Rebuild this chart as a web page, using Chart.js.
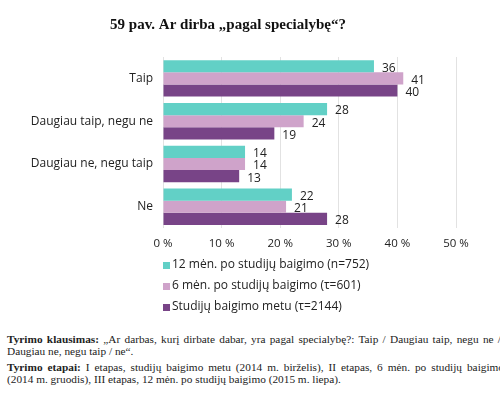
<!DOCTYPE html>
<html>
<head>
<meta charset="utf-8">
<script src="https://cdn.jsdelivr.net/npm/chart.js@4.4.0/dist/chart.umd.min.js"></script>
<style>
  body { margin: 0; background: #fff; width: 500px; height: 396px; overflow: hidden; position: relative; }
  #wrap { position: absolute; left: 0; top: 0; width: 500px; height: 320px; }
  .note { position: absolute; left: 7px; width: 520px; font-family: "Liberation Serif", "DejaVu Serif", serif;
          font-size: 11.3px; line-height: 11.5px; color: #222; white-space: nowrap; }
  .just { text-align: justify; text-align-last: justify; white-space: normal; }
</style>
</head>
<body>
<div id="wrap"><canvas id="bars"></canvas></div>
<div class="note" style="top:334px">
  <div class="just" style="width:494px"><b>Tyrimo klausimas:</b> „Ar darbas, kurį dirbate dabar, yra pagal specialybę?: Taip / Daugiau taip, negu ne /</div>
  <div>Daugiau ne, negu taip / ne“.</div>
</div>
<div class="note" style="top:362px">
  <div class="just" style="width:497px"><b>Tyrimo etapai:</b> I etapas, studijų baigimo metu (2014 m. birželis), II etapas, 6 mėn. po studijų baigimo</div>
  <div>(2014 m. gruodis), III etapas, 12 mėn. po studijų baigimo (2015 m. liepa).</div>
</div>
<script>
// categories and the three survey waves
var categories = ['Taip', 'Daugiau taip, negu ne', 'Daugiau ne, negu taip', 'Ne'];
var months12 = [36, 28, 14, 22];
var months6 = [41, 24, 14, 21];
var atGraduation = [40, 19, 13, 28];
var xTicks = [0, 10, 20, 30, 40, 50];

var seriesNames = ['12 mėn. po studijų baigimo (n=752)', '6 mėn. po studijų baigimo (τ=601)', 'Studijų baigimo metu (τ=2144)'];
var colors = ['#62d0c6', '#cfa3ca', '#784487'];

// numbers at the end of each bar
var valueLabels = {
  id: 'valueLabels',
  afterDatasetsDraw: function(chart) {
    var ctx = chart.ctx;
    ctx.save();
    ctx.font = '12px "Open Sans", sans-serif';
    ctx.fillStyle = '#222';
    ctx.textBaseline = 'middle';
    ctx.textAlign = 'left';
    chart.data.datasets.forEach(function(ds, i) {
      chart.getDatasetMeta(i).data.forEach(function(bar, j) {
        ctx.fillText(ds.data[j], bar.x + 8, bar.y + 2);
      });
    });
    ctx.restore();
  }
};

// vertical legend under the axis
var stackedLegend = {
  id: 'stackedLegend',
  afterDraw: function(chart) {
    var ctx = chart.ctx;
    var left = chart.chartArea.left;
    ctx.save();
    ctx.font = '12px "Open Sans", sans-serif';
    ctx.textBaseline = 'middle';
    chart.data.datasets.forEach(function(ds, i) {
      var y = 265 + i * 21;
      ctx.fillStyle = ds.backgroundColor;
      ctx.fillRect(left, y - 3, 7, 7);
      ctx.fillStyle = '#222';
      ctx.fillText(ds.label, left + 9, y);
    });
    ctx.restore();
  }
};

var ctx = document.getElementById('bars');
var myChart = new Chart(ctx, {
  type: 'bar',
  data: {
    labels: categories,
    datasets: [
      { label: seriesNames[0], data: months12, backgroundColor: colors[0] },
      { label: seriesNames[1], data: months6, backgroundColor: colors[1] },
      { label: seriesNames[2], data: atGraduation, backgroundColor: colors[2] }
    ]
  },
  options: {
    indexAxis: 'y',
    responsive: true,
    maintainAspectRatio: false,
    animation: false,
    layout: { padding: { top: 0, right: 44, bottom: 60, left: 0 } },
    datasets: { bar: { barPercentage: 1, categoryPercentage: 0.85 } },
    plugins: {
      legend: { display: false },
      tooltip: { enabled: false },
      title: {
        display: true,
        text: '59 pav. Ar dirba „pagal specialybę“?',
        color: '#111',
        font: { family: '"Liberation Serif", "DejaVu Serif", serif', size: 15, weight: 'bold' },
        padding: { top: 16, bottom: 23 }
      }
    },
    scales: {
      x: {
        min: 0, max: 50,
        afterBuildTicks: function(axis) { axis.ticks = xTicks.map(function(v) { return { value: v }; }); },
        grid: { color: '#e2e2e2', drawTicks: false },
        border: { display: false },
        ticks: {
          padding: 9,
          color: '#222',
          font: { family: '"Open Sans", sans-serif', size: 11.5 },
          callback: function(v) { return v + ' %'; }
        }
      },
      y: {
        afterFit: function(axis) { axis.width = 163; },
        grid: { display: false, drawTicks: false },
        border: { display: false },
        ticks: {
          padding: 10,
          color: '#222',
          font: { family: '"Open Sans", sans-serif', size: 12 }
        }
      }
    }
  },
  plugins: [valueLabels, stackedLegend]
});
</script>
</body>
</html>
